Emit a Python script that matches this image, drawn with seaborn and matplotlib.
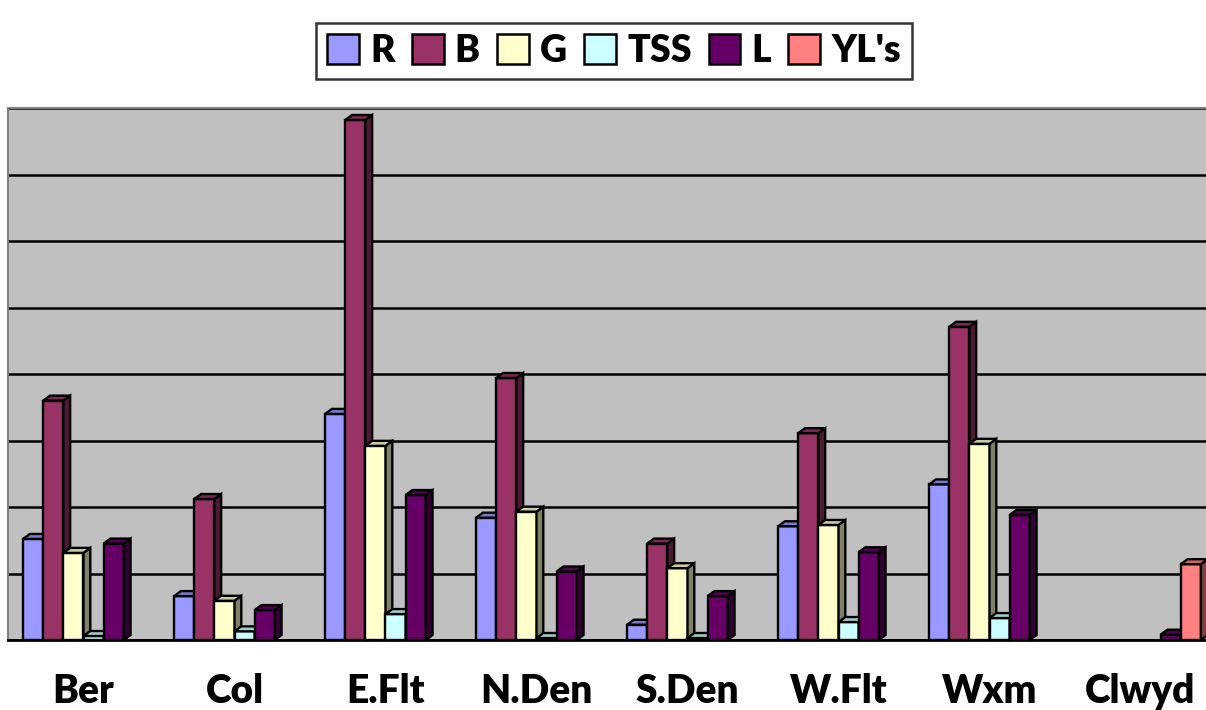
import matplotlib
matplotlib.use("Agg")
import matplotlib.pyplot as plt
from matplotlib.patches import Polygon, Rectangle
import seaborn as sns
import numpy as np
import pandas as pd

# values, in gridline units
sites = ['Ber', 'Col', 'E.Flt', 'N.Den', 'S.Den', 'W.Flt', 'Wxm', 'Clwyd']
series = ['R', 'B', 'G', 'TSS', 'L', "YL's"]
r_vals = [1.52, 0.66, 3.40, 1.84, 0.23, 1.71, 2.34, 0.0]
b_vals = [3.60, 2.12, 7.82, 3.94, 1.45, 3.11, 4.71, 0.0]
g_vals = [1.31, 0.59, 2.92, 1.93, 1.08, 1.73, 2.95, 0.0]
tss_vals = [0.06, 0.13, 0.39, 0.03, 0.03, 0.27, 0.33, 0.0]
l_vals = [1.45, 0.45, 2.18, 1.03, 0.66, 1.32, 1.88, 0.08]
yl_vals = [0.0, 0.0, 0.0, 0.0, 0.0, 0.0, 0.0, 1.14]
colors = ['#9999FF', '#993366', '#FFFFCC', '#CCFFFF', '#660066', '#FF8080']

rows = []
for name, vals in zip(series, [r_vals, b_vals, g_vals, tss_vals, l_vals, yl_vals]):
    for site, v in zip(sites, vals):
        rows.append({'site': site, 'series': name, 'value': v})
df = pd.DataFrame(rows)

sns.set_style('white')
plt.rcParams['font.family'] = ['Lato', 'DejaVu Sans']
plt.rcParams['text.color'] = 'black'
plt.rcParams['xtick.color'] = 'black'
plt.rcParams['axes.labelcolor'] = 'black'

fig = plt.figure(figsize=(12.06, 7.10), dpi=100)
ax = fig.add_axes([8 / 1206, 70 / 710, 1208 / 1206, 532 / 710])
ax.set_facecolor('#C0C0C0')

sns.barplot(data=df, x='site', y='value', hue='series', order=sites,
            hue_order=series, palette=colors, saturation=1,
            edgecolor='black', linewidth=1.7, legend=False, ax=ax)

# fake 3d: side and top faces on every bar, drawn left to right
dx, dy = 0.045, 0.075
bars = [p for p in ax.patches if isinstance(p, Rectangle)]
bars.sort(key=lambda p: p.get_x())
z = 3.0
for p in bars:
    h = p.get_height()
    x0, w = p.get_x(), p.get_width()
    p.set_zorder(z)
    if h <= 0:
        p.set_visible(False)
        continue
    fc = np.array(p.get_facecolor()[:3])
    side = Polygon([(x0 + w, 0), (x0 + w + dx, dy), (x0 + w + dx, h + dy), (x0 + w, h)],
                   closed=True, facecolor=fc * 0.5, edgecolor='black', lw=1.7, zorder=z)
    top = Polygon([(x0, h), (x0 + dx, h + dy), (x0 + w + dx, h + dy), (x0 + w, h)],
                  closed=True, facecolor=fc * 0.8, edgecolor='black', lw=1.7, zorder=z)
    ax.add_patch(side)
    ax.add_patch(top)
    z += 0.01

ax.set_xlim(-0.5, len(sites) - 0.5)
ax.set_ylim(0, 8)
ax.set_yticks(range(9))
ax.set_yticklabels([])
ax.tick_params(axis='y', length=0)
ax.yaxis.grid(True, color='black', lw=1.8)
ax.set_axisbelow(True)

ax.set_xticks(range(len(sites)))
ax.set_xticklabels(sites, fontsize=28, fontweight='heavy', color='black')
ax.tick_params(axis='x', which='major', length=0, pad=24)
ax.set_xticks(np.arange(-0.5, len(sites)), minor=True)
ax.tick_params(axis='x', which='minor', length=9, width=1.6, color='black', direction='out')
ax.set_xlabel('')
ax.set_ylabel('')

for s in ['left', 'top']:
    ax.spines[s].set_color('#808080')
    ax.spines[s].set_linewidth(1.5)
ax.spines['right'].set_visible(False)
ax.spines['bottom'].set_color('black')
ax.spines['bottom'].set_linewidth(2)

handles = [Rectangle((0, 0), 1, 1, facecolor=c, edgecolor='black', lw=1.8) for c in colors]
leg = fig.legend(handles, series, loc='center', bbox_to_anchor=(614 / 1206, 1 - 51 / 710),
                 ncol=6, frameon=True, fancybox=False, edgecolor='black',
                 prop={'size': 27, 'weight': 'heavy'}, handlelength=0.85, handleheight=0.85,
                 handletextpad=0.3, columnspacing=0.45, borderpad=0.3)
leg.get_frame().set_linewidth(1.8)
for t in leg.get_texts():
    t.set_color('black')

fig.savefig('out.png', dpi=100)
